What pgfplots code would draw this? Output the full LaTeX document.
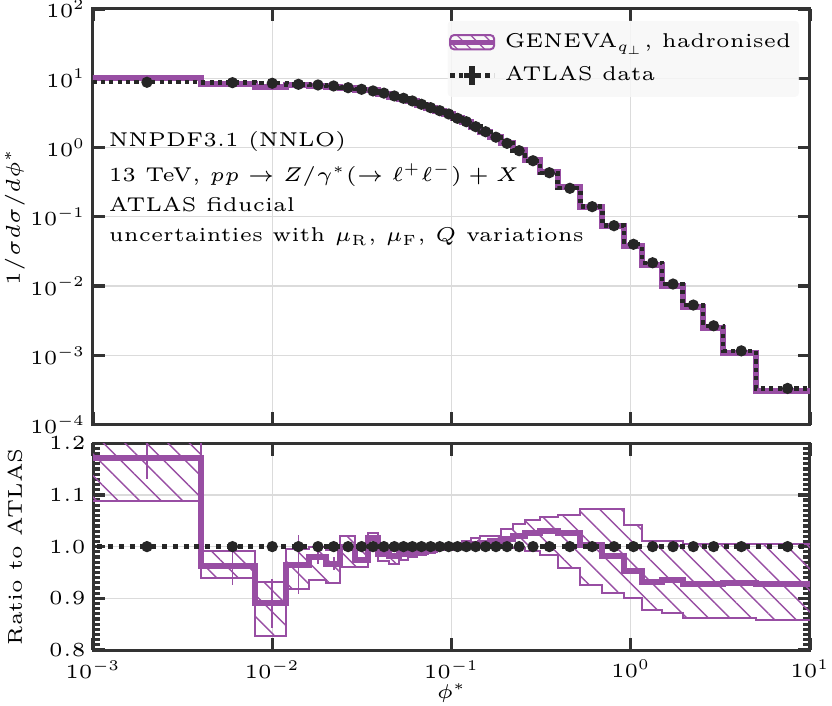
\RequirePackage{fix-cm}
\documentclass[border=0pt]{standalone}
\usepackage{pgfplots}
\pgfplotsset{compat=1.18}
\usepackage{pgfplotstable}
\usepgfplotslibrary{fillbetween}
\usetikzlibrary{patterns.meta}
\DeclareMathSizes{5}{5}{3.7}{3}
\definecolor{geneva}{RGB}{152,78,163}
\definecolor{dat}{RGB}{38,38,38}
\definecolor{axcol}{RGB}{51,51,51}

\pgfplotstableread{
e d g c lo hi
0.0008 8.75 10.25 1.171 1.088 1.250
0.004 8.64 8.32 0.963 0.939 0.992
0.008 8.47 7.54 0.890 0.827 0.932
0.012 8.18 7.89 0.965 0.918 0.995
0.016 8.00 7.84 0.980 0.935 1.000
0.020 7.74 7.48 0.967 0.930 0.994
0.024 7.31 7.31 1.000 0.960 1.021
0.029 6.93 6.76 0.975 0.960 0.994
0.034 6.56 6.67 1.017 1.003 1.027
0.039 6.10 6.01 0.985 0.973 0.994
0.045 5.55 5.44 0.981 0.966 0.992
0.051 5.14 5.06 0.985 0.975 0.994
0.057 4.70 4.64 0.988 0.980 0.995
0.064 4.21 4.17 0.990 0.984 0.996
0.072 3.76 3.73 0.993 0.988 0.998
0.081 3.40 3.39 0.997 0.993 1.001
0.091 3.05 3.04 0.998 0.994 1.002
0.102 2.64 2.64 1.000 0.996 1.005
0.114 2.36 2.37 1.003 0.997 1.010
0.128 2.00 2.01 1.005 0.998 1.016
0.145 1.69 1.70 1.007 0.998 1.021
0.165 1.41 1.424 1.010 0.998 1.021
0.189 1.15 1.166 1.014 0.998 1.034
0.219 0.90 0.918 1.020 0.997 1.044
0.258 0.645 0.662 1.026 0.992 1.052
0.312 0.433 0.446 1.030 0.984 1.057
0.391 0.258 0.265 1.027 0.958 1.061
0.524 0.140 0.1404 1.003 0.926 1.072
0.695 0.0744 0.0730 0.981 0.911 1.072
0.918 0.0401 0.0382 0.952 0.900 1.042
1.153 0.0217 0.0202 0.932 0.877 1.010
1.496 0.0107 0.0100 0.935 0.871 1.010
1.947 0.00532 0.00494 0.928 0.862 1.006
2.522 0.00267 0.00248 0.928 0.861 1.006
3.277 0.00116 0.00108 0.929 0.861 1.005
5 0.000333 0.000309 0.928 0.859 1.005
10 0.000333 0.000309 0.928 0.859 1.005
}\bins

\pgfplotstableread{
x d one
0.002 8.75 1
0.006 8.64 1
0.010 8.47 1
0.014 8.18 1
0.018 8.00 1
0.022 7.74 1
0.0265 7.31 1
0.0315 6.93 1
0.0365 6.56 1
0.042 6.10 1
0.048 5.55 1
0.054 5.14 1
0.0605 4.70 1
0.068 4.21 1
0.0765 3.76 1
0.086 3.40 1
0.0965 3.05 1
0.108 2.64 1
0.121 2.36 1
0.1365 2.00 1
0.155 1.69 1
0.177 1.41 1
0.204 1.15 1
0.2385 0.90 1
0.285 0.645 1
0.3515 0.433 1
0.4575 0.258 1
0.6095 0.140 1
0.8065 0.0744 1
1.0355 0.0401 1
1.3245 0.0217 1
1.7215 0.0107 1
2.2345 0.00532 1
2.8995 0.00267 1
4.1385 0.00116 1
7.5 0.000333 1
}\centers

\pgfplotstableread{
x c err
0.002 1.171 0.040
0.006 0.963 0.037
0.010 0.890 0.047
0.014 0.965 0.057
0.018 0.980 0.013
0.022 0.967 0.012
}\gerr

\begin{document}
\fontsize{5}{6}\selectfont
\begin{tikzpicture}
\begin{axis}[scale only axis, width=179.25pt, height=103.9pt,
  at={(0,0)}, anchor=north west,
  xmode=log, xmin=1e-3, xmax=10,
  xtick={1e-3,1e-2,1e-1,1,10}, xminorticks=false,
  axis line style={axcol, line width=0.75pt},
  tick style={axcol, line width=0.8pt},
  major tick length=3.1pt, minor tick length=1.7pt,
  tick align=inside,
  grid=major,
  major grid style={black!14, line width=0.3pt},
  ymode=log, ymin=1e-4, ymax=1e2,
  ytick={1e-4,1e-3,1e-2,1e-1,1,10,100}, yminorticks=false,
  xticklabels={},
  ylabel={$1/\sigma d\sigma/d\phi^*$},
  ylabel style={at={(axis description cs:-0.1088,0.5)}, anchor=center},
  legend cell align=left,
  legend style={at={(0.986,0.9735)}, anchor=north east, draw=none,
    fill=black!3, fill opacity=0.85, text opacity=1, rounded corners=1pt,
    inner xsep=0pt, inner ysep=1.2pt,
    nodes={inner xsep=2pt, inner ysep=1.9pt, text height=3.6pt, text depth=0.9pt}},
]
\coordinate (TL) at (rel axis cs:0,1);
\addlegendimage{legend image code/.code={
  \draw[geneva, line width=0.5pt, pattern={Lines[angle=-45,distance=2.4pt,line width=0.3pt]}, pattern color=geneva] (0pt,-1.8pt) rectangle (11pt,1.8pt);
  \draw[geneva, line width=1.3pt] (0pt,0pt) -- (11pt,0pt);}}
\addlegendentry{GENEVA$_{q_\perp}$, hadronised}
\addlegendimage{legend image code/.code={
  \draw[dat, line width=1.1pt, dash pattern=on 1.1pt off 1.1pt] (0pt,0pt) -- (11pt,0pt);
  \draw[dat, line width=1.4pt] (5.5pt,-2.3pt) -- (5.5pt,2.3pt);
  \draw[dat, line width=1.4pt] (3.4pt,0pt) -- (7.6pt,0pt);}}
\addlegendentry{ATLAS data}

\addplot[const plot, geneva, line width=1.5pt, forget plot] table[x=e, y=g]{\bins};
\addplot[const plot, dat, line width=1.1pt, dash pattern=on 1.05pt off 1.05pt, line cap=butt, forget plot] table[x=e, y=d]{\bins};
\addplot[only marks, mark=*, mark size=1.2pt, mark options={solid, fill=dat, draw=dat}, forget plot] table[x=x, y=d]{\centers};

\node[anchor=base west, inner sep=0pt] at (rel axis cs:0.0209,0.669) {NNPDF3.1 (NNLO)};
\node[anchor=base west, inner sep=0pt] at (rel axis cs:0.0209,0.584) {13 TeV, $pp\to Z/\gamma^*(\to\ell^+\ell^-)+X$};
\node[anchor=base west, inner sep=0pt] at (rel axis cs:0.0209,0.512) {ATLAS fiducial};
\node[anchor=base west, inner sep=0pt] at (rel axis cs:0.0209,0.440) {uncertainties with $\mu_\mathrm{R}$, $\mu_\mathrm{F}$, $Q$ variations};
\end{axis}

\begin{axis}[scale only axis, width=179.25pt, height=51.7pt,
  at={(0,-108.55pt)}, anchor=north west,
  xmode=log, xmin=1e-3, xmax=10,
  xtick={1e-3,1e-2,1e-1,1,10}, xminorticks=false,
  axis line style={axcol, line width=0.75pt},
  tick style={axcol, line width=0.8pt},
  major tick length=3.1pt, minor tick length=1.7pt,
  tick align=inside,
  grid=major,
  major grid style={black!14, line width=0.3pt},
  ymin=0.8, ymax=1.2, ytick={0.8,0.9,1.0,1.1,1.2}, minor y tick num=9,
  yticklabel style={/pgf/number format/.cd, fixed, fixed zerofill, precision=1},
  xticklabel style={yshift=-0.7pt},
  ylabel={Ratio to ATLAS},
  ylabel style={at={(axis description cs:-0.1088,0.5)}, anchor=center},
  xlabel={$\phi^*$},
  xlabel style={at={(axis description cs:0.5,-0.21)}, anchor=center},
]
\addplot[const plot, geneva, line width=0.5pt, name path=hi] table[x=e, y=hi]{\bins};
\addplot[const plot, geneva, line width=0.5pt, name path=lo] table[x=e, y=lo]{\bins};
\addplot[draw=none, pattern={Lines[angle=-45,distance=3.8pt,line width=0.35pt]}, pattern color=geneva] fill between[of=hi and lo];
\addplot[draw=none, mark=none, error bars/.cd, y dir=both, y explicit, error mark=none,
  error bar style={draw=geneva, line width=0.45pt, solid}] table[x=x, y=c, y error=err]{\gerr};
\addplot[const plot, geneva, line width=1.5pt] table[x=e, y=c]{\bins};
\addplot[dat, line width=1.2pt, dash pattern=on 1.25pt off 1.45pt, line cap=butt] coordinates {(0.0008,1) (10,1)};
\addplot[only marks, mark=*, mark size=1.2pt, mark options={solid, fill=dat, draw=dat}] table[x=x, y=one]{\centers};
\end{axis}

\pgfresetboundingbox
\path[use as bounding box] (TL) ++(-23.25pt,2.25pt) rectangle ++(208pt,-176.25pt);
\end{tikzpicture}
\end{document}
